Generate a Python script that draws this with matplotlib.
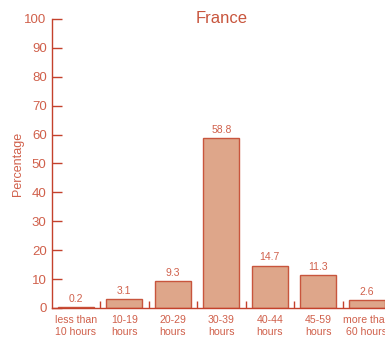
import matplotlib
matplotlib.use("Agg")
import matplotlib.pyplot as plt

categories = ["less than\n10 hours", "10-19\nhours", "20-29\nhours", "30-39\nhours",
              "40-44\nhours", "45-59\nhours", "more than\n60 hours"]
values = [0.2, 3.1, 9.3, 58.8, 14.7, 11.3, 2.6]
yticks = [0, 10, 20, 30, 40, 50, 60, 70, 80, 90, 100]

plt.rcParams['font.family'] = ['Liberation Sans', 'DejaVu Sans']
axis_c = '#c4412c'
text_c = '#d0604b'
face_c = '#dea68a'
edge_c = '#c8553d'

fig = plt.figure(figsize=(3.85, 3.38), dpi=100)
ax = fig.add_axes([0.1338, 0.0888, 0.882, 0.855])
x = list(range(len(categories)))
bars = ax.bar(x, values, width=0.74, color=face_c, edgecolor=edge_c, linewidth=1.0)
for xi, v in zip(x, values):
    ax.text(xi, v + 1.2, f"{v}", ha='center', va='bottom', fontsize=7.5, color=text_c)

ax.set_xlim(-0.5, 6.5)
ax.set_ylim(0, 100)
ax.set_yticks(yticks)
ax.set_xticks(x)
ax.set_xticklabels(categories, fontsize=7.6, color=text_c, linespacing=1.2)
ax.set_xticks([i + 0.5 for i in range(6)], minor=True)
ax.tick_params(axis='x', which='major', length=0, pad=5)
ax.tick_params(axis='x', which='minor', direction='in', length=5, color=axis_c, width=1)
ax.tick_params(axis='y', direction='in', length=7, color=axis_c, width=1,
               labelsize=9.5, labelcolor=text_c, pad=3.5)
for s in ['top', 'right']:
    ax.spines[s].set_visible(False)
for s in ['left', 'bottom']:
    ax.spines[s].set_color(axis_c)
    ax.spines[s].set_linewidth(1.0)
ax.set_ylabel("Percentage", fontsize=9, color=text_c, labelpad=0)
ax.text(0.5, 0.986, "France", transform=ax.transAxes, ha='center', va='baseline',
        fontsize=12, color=edge_c)

fig.savefig("out.png", dpi=100)
